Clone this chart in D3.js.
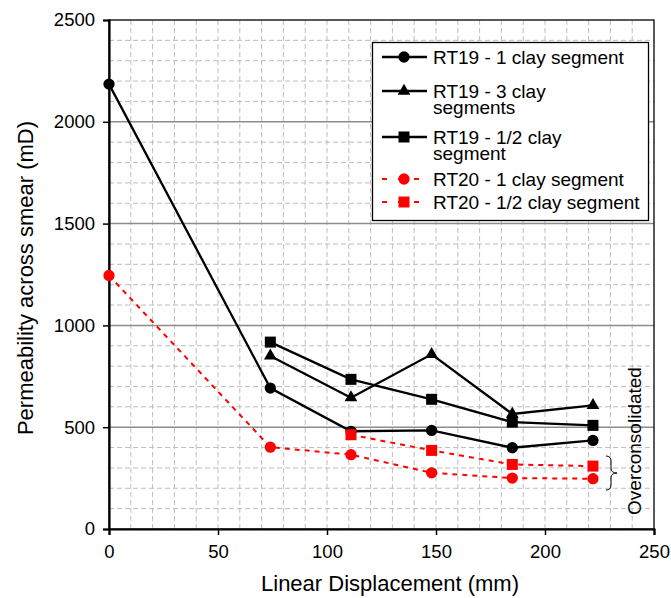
<!DOCTYPE html>
<html>
<head>
<meta charset="utf-8">
<script src="https://cdn.jsdelivr.net/npm/d3@7"></script>
<style>
  body { margin: 0; background: #fff; }
  svg { font-family: "Liberation Sans", Arial, sans-serif; }
</style>
</head>
<body>
<div id="chart"></div>
<script>
// Values
const xTicks = [0, 50, 100, 150, 200, 250]
const yTicks = [0, 500, 1000, 1500, 2000, 2500]

const rt19OneX = [0, 74, 111, 148, 185, 222]
const rt19OneY = [2185, 692, 480, 484, 399, 435]
const rt19ThreeX = [74, 111, 148, 185, 222]
const rt19ThreeY = [850, 645, 858, 565, 607]
const rt19HalfX = [74, 111, 148, 185, 222]
const rt19HalfY = [918, 735, 637, 525, 509]
const rt20OneX = [0, 74, 111, 148, 185, 222]
const rt20OneY = [1245, 402, 365, 276, 250, 247]
const rt20HalfX = [111, 148, 185, 222]
const rt20HalfY = [463, 386, 317, 309]

const seriesNames = ['RT19 - 1 clay segment', 'RT19 - 3 clay segments', 'RT19 - 1/2 clay segment',
  'RT20 - 1 clay segment', 'RT20 - 1/2 clay segment']
// legend labels broken the way the reference wraps them
const legendLines = [['RT19 - 1 clay segment'], ['RT19 - 3 clay', 'segments'], ['RT19 - 1/2 clay', 'segment'],
  ['RT20 - 1 clay segment'], ['RT20 - 1/2 clay segment']]

const zip = (xs, ys) => xs.map((x, i) => ({ x, y: ys[i] }))
const series = [
  { name: seriesNames[0], data: zip(rt19OneX, rt19OneY), color: '#000', dash: null, shape: 'circle' },
  { name: seriesNames[1], data: zip(rt19ThreeX, rt19ThreeY), color: '#000', dash: null, shape: 'triangle' },
  { name: seriesNames[2], data: zip(rt19HalfX, rt19HalfY), color: '#000', dash: null, shape: 'square' },
  { name: seriesNames[3], data: zip(rt20OneX, rt20OneY), color: '#ff0000', dash: '5,5', shape: 'circle' },
  { name: seriesNames[4], data: zip(rt20HalfX, rt20HalfY), color: '#ff0000', dash: '5,5', shape: 'square' }
]

const width = 671, height = 598
const margin = { top: 20, right: 17, bottom: 69, left: 109 }

const svg = d3.select('#chart').append('svg')
  .attr('width', width)
  .attr('height', height)

const x = d3.scaleLinear().domain([0, 250]).range([margin.left, width - margin.right])
const y = d3.scaleLinear().domain([0, 2500]).range([height - margin.bottom, margin.top])

// Minor dashed grid
svg.append('g')
  .selectAll('line')
  .data(d3.range(10, 250, 10))
  .join('line')
  .attr('x1', d => x(d)).attr('x2', d => x(d))
  .attr('y1', y(0)).attr('y2', y(2500))
  .attr('stroke', '#bdbdbd').attr('stroke-width', 1).attr('stroke-dasharray', '5,3')

svg.append('g')
  .selectAll('line')
  .data(d3.range(100, 2500, 100).filter(d => d % 500 !== 0))
  .join('line')
  .attr('x1', x(0)).attr('x2', x(250))
  .attr('y1', d => y(d)).attr('y2', d => y(d))
  .attr('stroke', '#bdbdbd').attr('stroke-width', 1).attr('stroke-dasharray', '5,3')

// Major horizontal grid
svg.append('g')
  .selectAll('line')
  .data([500, 1000, 1500, 2000])
  .join('line')
  .attr('x1', x(0)).attr('x2', x(250))
  .attr('y1', d => y(d)).attr('y2', d => y(d))
  .attr('stroke', '#8c8c8c').attr('stroke-width', 1.5)

// Frame (top and right)
svg.append('rect')
  .attr('x', x(0)).attr('y', y(2500))
  .attr('width', x(250) - x(0)).attr('height', y(0) - y(2500))
  .attr('fill', 'none').attr('stroke', '#000').attr('stroke-width', 1.3)

// Axes
const xAxis = svg.append('g')
  .attr('transform', `translate(0,${y(0)})`)
  .call(d3.axisBottom(x).tickValues(xTicks).tickFormat(d3.format('d')).tickSize(6).tickPadding(10))
const yAxis = svg.append('g')
  .attr('transform', `translate(${x(0)},0)`)
  .call(d3.axisLeft(y).tickValues(yTicks).tickFormat(d3.format('d')).tickSize(6).tickPadding(8))

for (const ax of [xAxis, yAxis]) {
  ax.select('.domain').attr('stroke-width', 2.2)
  ax.selectAll('.tick line').attr('stroke-width', 1.5)
  ax.selectAll('.tick text').attr('font-size', '18.5px').attr('fill', '#000')
    .attr('font-family', '"Liberation Sans", Arial, sans-serif')
}

// Lines
const line = d3.line().x(d => x(d.x)).y(d => y(d.y))

svg.append('g')
  .selectAll('path')
  .data(series)
  .join('path')
  .attr('d', d => line(d.data))
  .attr('fill', 'none')
  .attr('stroke', d => d.color)
  .attr('stroke-width', d => d.dash ? 2 : 2.3)
  .attr('stroke-dasharray', d => d.dash)

const symbolFor = shape => {
  if (shape === 'circle') return d3.symbol(d3.symbolCircle, 100)()
  if (shape === 'triangle') return d3.symbol(d3.symbolTriangle, 70)()
  return d3.symbol(d3.symbolSquare, 121)()
}

// Markers
series.forEach(s => {
  svg.append('g')
    .selectAll('path')
    .data(s.data)
    .join('path')
    .attr('transform', d => `translate(${x(d.x)},${y(d.y)})`)
    .attr('d', symbolFor(s.shape))
    .attr('fill', s.color)
})

// Legend
const legend = svg.append('g')
legend.append('rect')
  .attr('x', 372.5).attr('y', 42.5).attr('width', 276).attr('height', 178)
  .attr('fill', '#fff').attr('stroke', '#000').attr('stroke-width', 1.3)

const legendSymY = [57, 91, 137, 179, 202]
series.forEach((s, i) => {
  const gy = legendSymY[i]
  legend.append('line')
    .attr('x1', 382).attr('x2', 427).attr('y1', gy).attr('y2', gy)
    .attr('stroke', s.color).attr('stroke-width', s.dash ? 2 : 2.3)
    .attr('stroke-dasharray', s.dash ? '5,11' : null)
  legend.append('path')
    .attr('transform', `translate(404,${gy})`)
    .attr('d', symbolFor(s.shape))
    .attr('fill', s.color)
  // wrapped labels as one text with tspans
  const txt = legend.append('text')
    .attr('x', 433).attr('y', gy + 7)
    .attr('font-size', '19px')
  legendLines[i].forEach((t, j) => {
    txt.append('tspan')
      .attr('x', 433)
      .attr('dy', j === 0 ? 0 : 16)
      .text(t)
  })
})

// Axis titles
svg.append('text')
  .attr('x', 390).attr('y', 591)
  .attr('text-anchor', 'middle').attr('font-size', '22px')
  .text('Linear Displacement (mm)')

svg.append('text')
  .attr('transform', 'rotate(-90)')
  .attr('x', -278).attr('y', 33)
  .attr('text-anchor', 'middle').attr('font-size', '22px')
  .text('Permeability across smear (mD)')

// Overconsolidated bracket and note
svg.append('path')
  .attr('d', 'M606,456 Q611,456 611,461 L611,468 Q611,473 617,473 Q611,473 611,478 L611,485 Q611,490 606,490')
  .attr('fill', 'none').attr('stroke', '#000').attr('stroke-width', 1)

svg.append('text')
  .attr('transform', 'rotate(-90)')
  .attr('x', -441).attr('y', 641)
  .attr('text-anchor', 'middle').attr('font-size', '19px')
  .text('Overconsolidated')
</script>
</body>
</html>
